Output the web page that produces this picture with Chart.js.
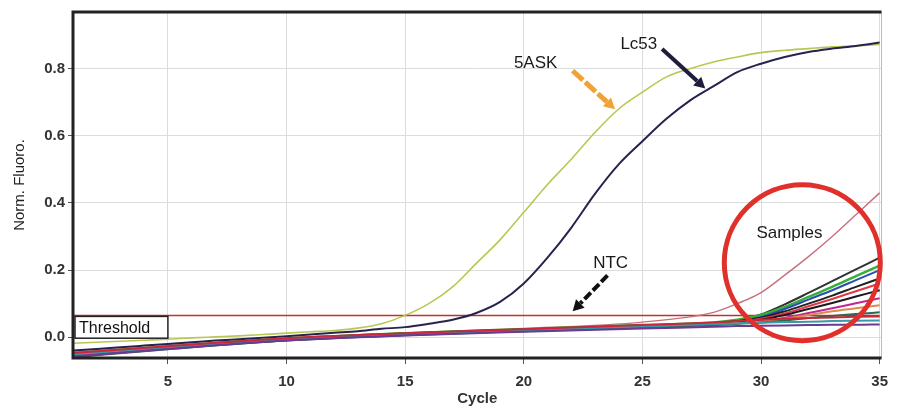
<!DOCTYPE html>
<html>
<head>
<meta charset="utf-8">
<script src="https://cdn.jsdelivr.net/npm/chart.js@4"></script>
<style>
  html, body { margin: 0; padding: 0; background: #fff; }
  #wrap { width: 897px; height: 412px; position: relative; }
</style>
</head>
<body>
<div id="wrap"><canvas id="qpcrChart"></canvas></div>
<script>
// cycles 1..35
const cycles = [1, 2, 3, 4, 5, 6, 7, 8, 9, 10, 11, 12, 13, 14, 15, 16, 17, 18,
    19, 20, 21, 22, 23, 24, 25, 26, 27, 28, 29, 30, 31, 32, 33, 34, 35];

const ask5 = [-0.018, -0.015, -0.012, -0.009, -0.006, -0.002, 0.001, 0.004, 0.008, 0.012,
    0.016, 0.020, 0.027, 0.040, 0.065, 0.100, 0.150, 0.220, 0.290, 0.372,
    0.455, 0.530, 0.610, 0.680, 0.730, 0.775, 0.800, 0.820, 0.835, 0.848,
    0.855, 0.860, 0.865, 0.868, 0.872];

const lc53 = [-0.040, -0.035, -0.030, -0.025, -0.020, -0.015, -0.010, -0.006, -0.002, 0.003,
    0.008, 0.013, 0.018, 0.025, 0.030, 0.040, 0.052, 0.072, 0.105, 0.160,
    0.237, 0.326, 0.427, 0.515, 0.584, 0.650, 0.705, 0.748, 0.790, 0.815,
    0.835, 0.850, 0.860, 0.868, 0.878];

// samples are read at fewer cycles
const sampleCycles = [1, 5, 10, 15, 20, 25, 28, 29, 30, 31, 32, 33, 34, 35];
const sampleA = [-0.045, -0.025, -0.002, 0.013, 0.026, 0.045, 0.074, 0.100, 0.133, 0.185, 0.240, 0.300, 0.365, 0.430];
const sampleB = [-0.052, -0.030, -0.006, 0.010, 0.022, 0.034, 0.042, 0.050, 0.068, 0.098, 0.132, 0.167, 0.202, 0.237];
const sampleC = [-0.048, -0.028, -0.004, 0.012, 0.024, 0.036, 0.044, 0.052, 0.066, 0.090, 0.120, 0.150, 0.182, 0.213];
const sampleD = [-0.055, -0.032, -0.008, 0.008, 0.020, 0.032, 0.040, 0.047, 0.060, 0.084, 0.112, 0.140, 0.170, 0.200];
const sampleE = [-0.050, -0.029, -0.005, 0.011, 0.023, 0.035, 0.042, 0.048, 0.058, 0.077, 0.100, 0.124, 0.150, 0.175];
const sampleF = [-0.058, -0.034, -0.009, 0.007, 0.019, 0.031, 0.039, 0.045, 0.055, 0.071, 0.092, 0.114, 0.137, 0.160];
const sampleG = [-0.053, -0.031, -0.007, 0.009, 0.021, 0.033, 0.040, 0.045, 0.052, 0.066, 0.084, 0.102, 0.121, 0.140];
const sampleH = [-0.056, -0.033, -0.009, 0.007, 0.019, 0.030, 0.037, 0.041, 0.047, 0.058, 0.072, 0.086, 0.101, 0.116];
const sampleI = [-0.049, -0.029, -0.005, 0.010, 0.022, 0.033, 0.039, 0.042, 0.047, 0.055, 0.066, 0.077, 0.086, 0.095];
const sampleJ = [-0.060, -0.036, -0.010, 0.006, 0.018, 0.029, 0.036, 0.040, 0.044, 0.050, 0.057, 0.063, 0.069, 0.074];
const sampleK = [-0.047, -0.027, -0.003, 0.012, 0.024, 0.036, 0.044, 0.048, 0.052, 0.055, 0.057, 0.059, 0.061, 0.062];
const sampleL = [-0.058, -0.035, -0.010, 0.005, 0.016, 0.026, 0.031, 0.033, 0.034, 0.035, 0.036, 0.037, 0.037, 0.038];
const sampleM = [-0.051, -0.030, -0.006, 0.010, 0.021, 0.032, 0.039, 0.041, 0.043, 0.045, 0.046, 0.048, 0.049, 0.050];

const thresholdLevel = 0.065;
const xTicks = [5, 10, 15, 20, 25, 30, 35];
const yTicks = [0, 0.2, 0.4, 0.6, 0.8];

const FONT = '"Liberation Sans", Arial, sans-serif';

function pts(xs, ys) {
    return ys.map((v, i) => ({ x: xs[i], y: v }));
}

function curve(xs, values, color, width) {
    return {
        data: pts(xs, values),
        borderColor: color,
        borderWidth: width,
        pointRadius: 0,
        cubicInterpolationMode: 'monotone'
    };
}

// annotations, placed in data coordinates
const annotations = {
    labels: [
        { text: '5ASK', x: 20.5, y: 0.815 },
        { text: 'Lc53', x: 24.85, y: 0.874 },
        { text: 'NTC', x: 23.66, y: 0.219 },
        { text: 'Samples', x: 31.2, y: 0.311 }
    ],
    arrows: [
        { from: [22.06, 0.794], to: [23.85, 0.679], color: '#f2a235', width: 5, dash: [14, 3] },
        { from: [25.83, 0.859], to: [27.65, 0.741], color: '#1e1e3c', width: 4, dash: [] },
        { from: [23.53, 0.184], to: [22.06, 0.077], color: '#111111', width: 4, dash: [9, 3] }
    ],
    circle: { x: 31.74, y: 0.222 }
};

const annotatePlugin = {
    id: 'annotate',
    afterDatasetsDraw(chart) {
        const { ctx, chartArea: a, scales: { x, y } } = chart;
        ctx.save();

        // frame
        ctx.strokeStyle = '#bbb';
        ctx.lineWidth = 1;
        ctx.beginPath();
        ctx.moveTo(a.right, a.top);
        ctx.lineTo(a.right, a.bottom);
        ctx.stroke();
        ctx.strokeStyle = '#222';
        ctx.lineWidth = 3;
        ctx.beginPath();
        ctx.moveTo(a.right, a.top);
        ctx.lineTo(a.left, a.top);
        ctx.lineTo(a.left, a.bottom);
        ctx.lineTo(a.right, a.bottom);
        ctx.stroke();

        // threshold box
        const bx0 = x.getPixelForValue(1) + 2, bx1 = x.getPixelForValue(5);
        const by0 = y.getPixelForValue(thresholdLevel) + 1, by1 = y.getPixelForValue(-0.003);
        ctx.fillStyle = '#fff';
        ctx.fillRect(bx0, by0, bx1 - bx0, by1 - by0);
        ctx.strokeStyle = '#222';
        ctx.lineWidth = 1.5;
        ctx.strokeRect(bx0, by0, bx1 - bx0, by1 - by0);
        ctx.fillStyle = '#111';
        ctx.font = '16px ' + FONT;
        ctx.textAlign = 'left';
        ctx.textBaseline = 'middle';
        ctx.fillText('Threshold', bx0 + 4, (by0 + by1) / 2 + 1);

        // circle around samples
        const cx = x.getPixelForValue(annotations.circle.x);
        const cy = y.getPixelForValue(annotations.circle.y);
        ctx.strokeStyle = '#e0302c';
        ctx.lineWidth = 5;
        ctx.beginPath();
        ctx.ellipse(cx, cy, 78, 78, 0, 0, Math.PI * 2);
        ctx.stroke();

        // arrows
        annotations.arrows.forEach(ar => {
            const x0 = x.getPixelForValue(ar.from[0]), y0 = y.getPixelForValue(ar.from[1]);
            const x1 = x.getPixelForValue(ar.to[0]), y1 = y.getPixelForValue(ar.to[1]);
            const ang = Math.atan2(y1 - y0, x1 - x0);
            const head = 11;
            const bxh = x1 - Math.cos(ang) * head, byh = y1 - Math.sin(ang) * head;
            ctx.strokeStyle = ar.color;
            ctx.fillStyle = ar.color;
            ctx.lineWidth = ar.width;
            ctx.setLineDash(ar.dash);
            ctx.beginPath();
            ctx.moveTo(x0, y0);
            ctx.lineTo(bxh, byh);
            ctx.stroke();
            ctx.setLineDash([]);
            ctx.beginPath();
            ctx.moveTo(x1, y1);
            ctx.lineTo(bxh + Math.cos(ang + Math.PI / 2) * 6, byh + Math.sin(ang + Math.PI / 2) * 6);
            ctx.lineTo(bxh + Math.cos(ang - Math.PI / 2) * 6, byh + Math.sin(ang - Math.PI / 2) * 6);
            ctx.closePath();
            ctx.fill();
        });

        // text labels
        ctx.fillStyle = '#1a1a1a';
        ctx.font = '17px ' + FONT;
        ctx.textAlign = 'center';
        ctx.textBaseline = 'middle';
        annotations.labels.forEach(l => {
            ctx.fillText(l.text, x.getPixelForValue(l.x), y.getPixelForValue(l.y));
        });

        ctx.restore();
    }
};

const datasets = [
    curve(sampleCycles, sampleL, '#6a3a92', 2),
    curve(sampleCycles, sampleK, '#c8283a', 2),
    curve(sampleCycles, sampleM, '#3a9aa8', 2),
    curve(sampleCycles, sampleJ, '#2a6a50', 2),
    curve(sampleCycles, sampleI, '#e08850', 2),
    curve(sampleCycles, sampleH, '#c02890', 2),
    curve(sampleCycles, sampleG, '#1a1a1a', 2),
    curve(sampleCycles, sampleF, '#e03848', 2),
    curve(sampleCycles, sampleE, '#222222', 2),
    curve(sampleCycles, sampleD, '#2c4cb8', 2),
    curve(sampleCycles, sampleC, '#34b034', 2.5),
    curve(sampleCycles, sampleB, '#333333', 2),
    curve(cycles, lc53, '#26244e', 2),
    curve(cycles, ask5, '#b9c752', 1.6),
    curve(sampleCycles, sampleA, '#c8707c', 1.4),
    {
        data: [{ x: 1, y: thresholdLevel }, { x: 35, y: thresholdLevel }],
        borderColor: '#c0302c',
        borderWidth: 1.5,
        pointRadius: 0
    }
];

new Chart(document.getElementById('qpcrChart'), {
    type: 'line',
    data: { datasets },
    options: {
        responsive: true,
        maintainAspectRatio: false,
        animation: false,
        layout: { padding: { top: 10, right: 9, left: 0, bottom: 0 } },
        plugins: {
            legend: { display: false },
            tooltip: { enabled: false }
        },
        scales: {
            x: {
                type: 'linear',
                min: 1,
                max: 35.08,
                afterBuildTicks: s => { s.ticks = xTicks.map(v => ({ value: v })); },
                afterFit: s => { s.height = 54; },
                grid: { color: '#dcdcdc', tickColor: '#555', tickLength: 6 },
                border: { display: false },
                ticks: {
                    color: '#333',
                    font: { family: FONT, size: 15, weight: 'bold' },
                    padding: 9,
                    maxRotation: 0
                },
                title: {
                    display: true,
                    text: 'Cycle',
                    color: '#333',
                    font: { family: FONT, size: 15, weight: 'bold' },
                    padding: { top: 0, bottom: 4 }
                }
            },
            y: {
                type: 'linear',
                min: -0.062,
                max: 0.969,
                afterBuildTicks: s => { s.ticks = yTicks.map(v => ({ value: v })); },
                afterFit: s => { s.width = 73; },
                grid: { color: '#dcdcdc', tickColor: '#555', tickLength: 5 },
                border: { display: false },
                ticks: {
                    color: '#333',
                    font: { family: FONT, size: 15, weight: 'bold' },
                    padding: 3,
                    callback: v => v.toFixed(1)
                },
                title: {
                    display: true,
                    text: 'Norm. Fluoro.',
                    color: '#222',
                    font: { family: FONT, size: 15 },
                    padding: { top: 11, bottom: 0 }
                }
            }
        }
    },
    plugins: [annotatePlugin]
});
</script>
</body>
</html>
